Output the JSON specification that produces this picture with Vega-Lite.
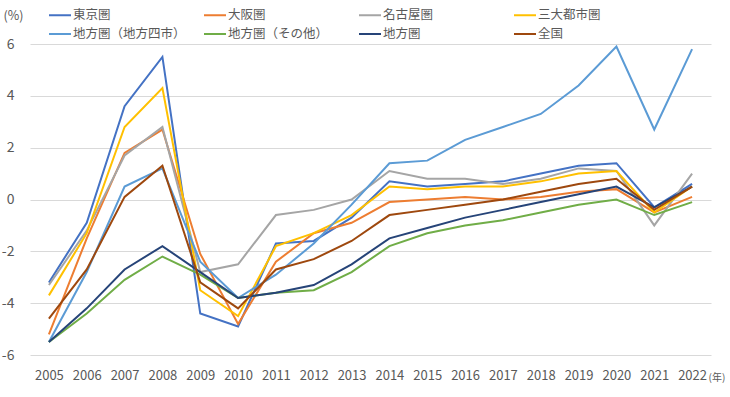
{
  "$schema": "https://vega.github.io/schema/vega-lite/v6.json",
  "width": 681,
  "height": 311,
  "autosize": {"type": "none"},
  "padding": {"left": 30, "top": 44, "right": 19, "bottom": 42},
  "background": "white",
  "config": {
    "view": {"stroke": null},
    "font": "Noto Sans CJK JP",
    "axis": {"labelColor": "#595959", "titleColor": "#595959", "labelFont": "Noto Sans CJK JP", "titleFont": "Noto Sans CJK JP", "titleFontWeight": "normal"}
  },
  "data": {"values": [
    {"year":"2005","region":"東京圏","value":-3.2},{"year":"2006","region":"東京圏","value":-0.9},{"year":"2007","region":"東京圏","value":3.6},{"year":"2008","region":"東京圏","value":5.5},{"year":"2009","region":"東京圏","value":-4.4},{"year":"2010","region":"東京圏","value":-4.9},{"year":"2011","region":"東京圏","value":-1.7},{"year":"2012","region":"東京圏","value":-1.6},{"year":"2013","region":"東京圏","value":-0.7},{"year":"2014","region":"東京圏","value":0.7},{"year":"2015","region":"東京圏","value":0.5},{"year":"2016","region":"東京圏","value":0.6},{"year":"2017","region":"東京圏","value":0.7},{"year":"2018","region":"東京圏","value":1.0},{"year":"2019","region":"東京圏","value":1.3},{"year":"2020","region":"東京圏","value":1.4},{"year":"2021","region":"東京圏","value":-0.3},{"year":"2022","region":"東京圏","value":0.6},
    {"year":"2005","region":"大阪圏","value":-5.2},{"year":"2006","region":"大阪圏","value":-1.5},{"year":"2007","region":"大阪圏","value":1.8},{"year":"2008","region":"大阪圏","value":2.7},{"year":"2009","region":"大阪圏","value":-2.1},{"year":"2010","region":"大阪圏","value":-4.8},{"year":"2011","region":"大阪圏","value":-2.4},{"year":"2012","region":"大阪圏","value":-1.3},{"year":"2013","region":"大阪圏","value":-0.9},{"year":"2014","region":"大阪圏","value":-0.1},{"year":"2015","region":"大阪圏","value":0.0},{"year":"2016","region":"大阪圏","value":0.1},{"year":"2017","region":"大阪圏","value":0.0},{"year":"2018","region":"大阪圏","value":0.1},{"year":"2019","region":"大阪圏","value":0.3},{"year":"2020","region":"大阪圏","value":0.4},{"year":"2021","region":"大阪圏","value":-0.5},{"year":"2022","region":"大阪圏","value":0.1},
    {"year":"2005","region":"名古屋圏","value":-3.3},{"year":"2006","region":"名古屋圏","value":-1.2},{"year":"2007","region":"名古屋圏","value":1.7},{"year":"2008","region":"名古屋圏","value":2.8},{"year":"2009","region":"名古屋圏","value":-2.8},{"year":"2010","region":"名古屋圏","value":-2.5},{"year":"2011","region":"名古屋圏","value":-0.6},{"year":"2012","region":"名古屋圏","value":-0.4},{"year":"2013","region":"名古屋圏","value":0.0},{"year":"2014","region":"名古屋圏","value":1.1},{"year":"2015","region":"名古屋圏","value":0.8},{"year":"2016","region":"名古屋圏","value":0.8},{"year":"2017","region":"名古屋圏","value":0.6},{"year":"2018","region":"名古屋圏","value":0.8},{"year":"2019","region":"名古屋圏","value":1.2},{"year":"2020","region":"名古屋圏","value":1.1},{"year":"2021","region":"名古屋圏","value":-1.0},{"year":"2022","region":"名古屋圏","value":1.0},
    {"year":"2005","region":"三大都市圏","value":-3.7},{"year":"2006","region":"三大都市圏","value":-1.3},{"year":"2007","region":"三大都市圏","value":2.8},{"year":"2008","region":"三大都市圏","value":4.3},{"year":"2009","region":"三大都市圏","value":-3.5},{"year":"2010","region":"三大都市圏","value":-4.5},{"year":"2011","region":"三大都市圏","value":-1.8},{"year":"2012","region":"三大都市圏","value":-1.3},{"year":"2013","region":"三大都市圏","value":-0.6},{"year":"2014","region":"三大都市圏","value":0.5},{"year":"2015","region":"三大都市圏","value":0.4},{"year":"2016","region":"三大都市圏","value":0.5},{"year":"2017","region":"三大都市圏","value":0.5},{"year":"2018","region":"三大都市圏","value":0.7},{"year":"2019","region":"三大都市圏","value":1.0},{"year":"2020","region":"三大都市圏","value":1.1},{"year":"2021","region":"三大都市圏","value":-0.5},{"year":"2022","region":"三大都市圏","value":0.5},
    {"year":"2005","region":"地方圏（地方四市）","value":-5.5},{"year":"2006","region":"地方圏（地方四市）","value":-2.8},{"year":"2007","region":"地方圏（地方四市）","value":0.5},{"year":"2008","region":"地方圏（地方四市）","value":1.2},{"year":"2009","region":"地方圏（地方四市）","value":-2.4},{"year":"2010","region":"地方圏（地方四市）","value":-3.8},{"year":"2011","region":"地方圏（地方四市）","value":-2.9},{"year":"2012","region":"地方圏（地方四市）","value":-1.7},{"year":"2013","region":"地方圏（地方四市）","value":-0.2},{"year":"2014","region":"地方圏（地方四市）","value":1.4},{"year":"2015","region":"地方圏（地方四市）","value":1.5},{"year":"2016","region":"地方圏（地方四市）","value":2.3},{"year":"2017","region":"地方圏（地方四市）","value":2.8},{"year":"2018","region":"地方圏（地方四市）","value":3.3},{"year":"2019","region":"地方圏（地方四市）","value":4.4},{"year":"2020","region":"地方圏（地方四市）","value":5.9},{"year":"2021","region":"地方圏（地方四市）","value":2.7},{"year":"2022","region":"地方圏（地方四市）","value":5.8},
    {"year":"2005","region":"地方圏（その他）","value":-5.5},{"year":"2006","region":"地方圏（その他）","value":-4.4},{"year":"2007","region":"地方圏（その他）","value":-3.1},{"year":"2008","region":"地方圏（その他）","value":-2.2},{"year":"2009","region":"地方圏（その他）","value":-2.9},{"year":"2010","region":"地方圏（その他）","value":-3.8},{"year":"2011","region":"地方圏（その他）","value":-3.6},{"year":"2012","region":"地方圏（その他）","value":-3.5},{"year":"2013","region":"地方圏（その他）","value":-2.8},{"year":"2014","region":"地方圏（その他）","value":-1.8},{"year":"2015","region":"地方圏（その他）","value":-1.3},{"year":"2016","region":"地方圏（その他）","value":-1.0},{"year":"2017","region":"地方圏（その他）","value":-0.8},{"year":"2018","region":"地方圏（その他）","value":-0.5},{"year":"2019","region":"地方圏（その他）","value":-0.2},{"year":"2020","region":"地方圏（その他）","value":0.0},{"year":"2021","region":"地方圏（その他）","value":-0.6},{"year":"2022","region":"地方圏（その他）","value":-0.1},
    {"year":"2005","region":"地方圏","value":-5.5},{"year":"2006","region":"地方圏","value":-4.2},{"year":"2007","region":"地方圏","value":-2.7},{"year":"2008","region":"地方圏","value":-1.8},{"year":"2009","region":"地方圏","value":-2.8},{"year":"2010","region":"地方圏","value":-3.8},{"year":"2011","region":"地方圏","value":-3.6},{"year":"2012","region":"地方圏","value":-3.3},{"year":"2013","region":"地方圏","value":-2.5},{"year":"2014","region":"地方圏","value":-1.5},{"year":"2015","region":"地方圏","value":-1.1},{"year":"2016","region":"地方圏","value":-0.7},{"year":"2017","region":"地方圏","value":-0.4},{"year":"2018","region":"地方圏","value":-0.1},{"year":"2019","region":"地方圏","value":0.2},{"year":"2020","region":"地方圏","value":0.5},{"year":"2021","region":"地方圏","value":-0.3},{"year":"2022","region":"地方圏","value":0.5},
    {"year":"2005","region":"全国","value":-4.6},{"year":"2006","region":"全国","value":-2.7},{"year":"2007","region":"全国","value":0.1},{"year":"2008","region":"全国","value":1.3},{"year":"2009","region":"全国","value":-3.2},{"year":"2010","region":"全国","value":-4.2},{"year":"2011","region":"全国","value":-2.7},{"year":"2012","region":"全国","value":-2.3},{"year":"2013","region":"全国","value":-1.6},{"year":"2014","region":"全国","value":-0.6},{"year":"2015","region":"全国","value":-0.4},{"year":"2016","region":"全国","value":-0.2},{"year":"2017","region":"全国","value":0.0},{"year":"2018","region":"全国","value":0.3},{"year":"2019","region":"全国","value":0.6},{"year":"2020","region":"全国","value":0.8},{"year":"2021","region":"全国","value":-0.4},{"year":"2022","region":"全国","value":0.5}
  ]},
  "mark": {"type": "line", "strokeWidth": 2},
  "encoding": {
    "x": {
      "field": "year", "type": "ordinal",
      "scale": {"type": "point", "padding": 0.5},
      "axis": {
        "title": "(年)", "titleFontSize": 10, "titleX": 678, "titleY": 22, "titleAlign": "left", "titleBaseline": "middle", "titleAnchor": null,
        "labelAngle": 0, "labelFontSize": 13, "labelPadding": 14, "ticks": false, "tickSize": 0, "domain": false, "grid": false
      }
    },
    "y": {
      "field": "value", "type": "quantitative",
      "scale": {"domain": [-6, 6], "nice": false, "zero": false},
      "axis": {
        "values": [-6, -4, -2, 0, 2, 4, 6],
        "labelExpr": "'' + datum.value",
        "title": "(%)", "titleAngle": 0, "titleX": -27, "titleY": -29, "titleAlign": "left", "titleBaseline": "middle", "titleFontSize": 12.5,
        "labelFontSize": 14, "labelPadding": 16, "ticks": false, "tickSize": 0, "domain": false,
        "grid": true, "gridColor": "#D9D9D9", "gridWidth": 1
      }
    },
    "color": {
      "field": "region", "type": "nominal",
      "scale": {
        "domain": ["東京圏", "大阪圏", "名古屋圏", "三大都市圏", "地方圏（地方四市）", "地方圏（その他）", "地方圏", "全国"],
        "range": ["#4472C4", "#ED7D31", "#A5A5A5", "#FFC000", "#5B9BD5", "#70AD47", "#264478", "#9E480E"]
      },
      "legend": {
        "title": null, "orient": "none", "legendX": 18, "legendY": -41, "columns": 4, "direction": "horizontal",
        "symbolType": "stroke", "symbolSize": 484, "symbolStrokeWidth": 2,
        "labelFontSize": 12.5, "labelColor": "#595959", "labelOffset": 1, "labelLimit": 200,
        "gridAlign": "all", "columnPadding": 14, "rowPadding": -2, "padding": 0
      }
    }
  }
}
